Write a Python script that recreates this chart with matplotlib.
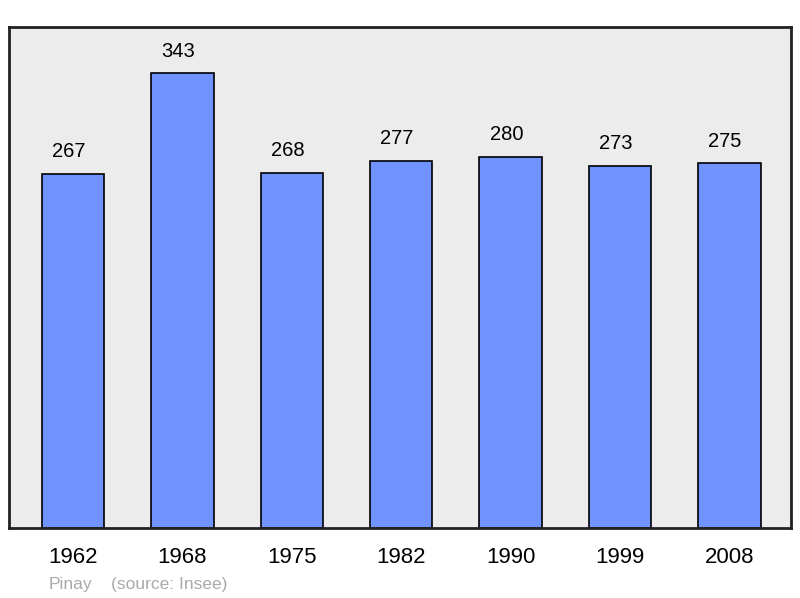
import matplotlib.pyplot as plt

# population data
years = ["1962", "1968", "1975", "1982", "1990", "1999", "2008"]
population = [267, 343, 268, 277, 280, 273, 275]
commune = "Pinay"
source = "(source: Insee)"

plt.rcParams['font.family'] = ['Liberation Sans', 'DejaVu Sans']

fig = plt.figure(figsize=(8, 5.98), dpi=100)
ax = fig.add_axes([0.01125, 0.1171, 0.9775, 0.8377])
ax.set_facecolor('#ececec')

x = range(len(years))
ax.bar(x, population, width=0.57, color='#7093ff', edgecolor='black', linewidth=1.2, zorder=2)

for i, v in enumerate(population):
    ax.text(i - 0.04, v + 16.6, str(v), ha='center', va='center', fontsize=14.5, color='black')

ax.set_xlim(-0.585, 6.562)
ax.set_ylim(0, 377.7)
ax.set_xticks(list(x))
ax.set_xticklabels(years, fontsize=16)
ax.tick_params(axis='x', length=0, pad=14)
ax.set_yticks([])

for sp in ax.spines.values():
    sp.set_linewidth(2)
    sp.set_color('#222222')

fig.text(49 / 800, 1 - 584 / 598, commune, fontsize=12.5, color='#aaaaaa', va='center', ha='left')
fig.text(111 / 800, 1 - 584 / 598, source, fontsize=12.5, color='#aaaaaa', va='center', ha='left')

fig.savefig('out.png', dpi=100)
